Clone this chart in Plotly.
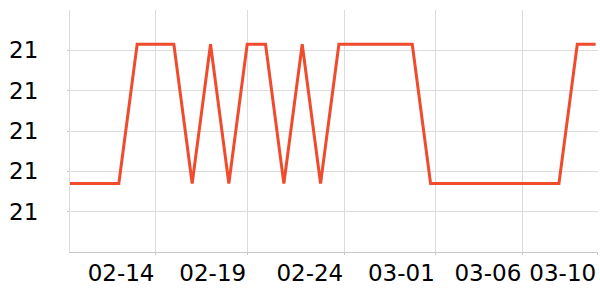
import plotly.graph_objects as go
import pandas as pd

dates = pd.date_range("2023-02-09", "2023-03-10", freq="D")
HI = 21.315
LO = 20.97
values = [
    LO, LO, LO, LO,          # 02-09 .. 02-12
    HI, HI, HI,              # 02-13 .. 02-15
    LO, HI, LO,              # 02-16 .. 02-18
    HI, HI,                  # 02-19 .. 02-20
    LO, HI, LO,              # 02-21 .. 02-23
    HI, HI, HI, HI, HI,      # 02-24 .. 02-28
    LO, LO, LO, LO, LO, LO, LO, LO,  # 03-01 .. 03-08
    HI, HI,                  # 03-09 .. 03-10
]
tick_vals = ["2023-02-14", "2023-02-19", "2023-02-24 07:00", "2023-03-01 06:50",
             "2023-03-06", "2023-03-10 02:00"]
y_ticks = [20.9, 21.0, 21.1, 21.2, 21.3]

fig = go.Figure()
fig.add_trace(go.Scatter(
    x=dates, y=values, mode="lines",
    line=dict(color="#ef4b2c", width=3),
    hoverinfo="skip",
))

grid = "#dcdcdc"
fig.update_layout(
    width=600, height=300,
    margin=dict(l=70, r=2, t=10, b=48),
    plot_bgcolor="white", paper_bgcolor="white",
    showlegend=False,
    font=dict(family="DejaVu Sans", size=23, color="#000"),
)
fig.update_xaxes(
    type="date",
    range=["2023-02-09 08:06", "2023-03-10 03:06"],
    tickvals=tick_vals, tickformat="%m-%d", tickangle=0,
    showgrid=True, gridcolor=grid, gridwidth=1,
    showline=True, linecolor="#c8c8c8", linewidth=1,
    ticks="outside", ticklen=2, tickcolor="#c8c8c8",
    ticklabelposition="outside left",
    zeroline=False,
)
fig.update_yaxes(
    range=[20.8, 21.4],
    tickvals=y_ticks, tickformat=".0f",
    showgrid=True, gridcolor=grid, gridwidth=1,
    showline=True, linecolor="#dcdcdc", linewidth=1,
    ticks="outside", ticklen=2, tickcolor="#c8c8c8",
    ticklabelstandoff=24,
    zeroline=False,
)
fig.write_html("out.html")
